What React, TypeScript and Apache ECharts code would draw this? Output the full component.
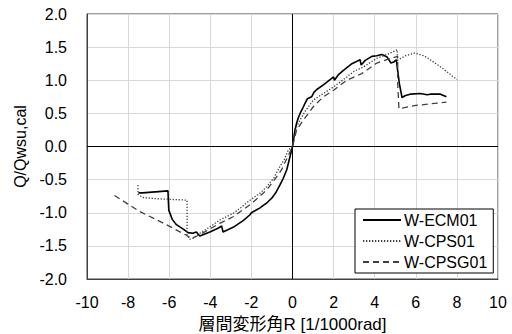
import React, { useEffect, useRef } from "react";
import * as echarts from "echarts";

const xTicks = [-10, -8, -6, -4, -2, 0, 2, 4, 6, 8, 10];
const yTicks = [-2.0, -1.5, -1.0, -0.5, 0.0, 0.5, 1.0, 1.5, 2.0];

const seriesNames = ["W-ECM01", "W-CPS01", "W-CPSG01"];

const ecm01: [number, number][] = [
  [-7.5, -0.7], [-7.3, -0.7], [-6.06, -0.67], [-6.02, -0.96], [-5.85, -1.1], [-5.65, -1.18],
  [-5.3, -1.25], [-5.08, -1.3], [-4.85, -1.31], [-4.68, -1.29], [-4.51, -1.35], [-4.02, -1.29],
  [-3.6, -1.23], [-3.45, -1.2], [-3.38, -1.29], [-2.89, -1.22], [-2.4, -1.12], [-2.07, -1.03],
  [-2.0, -1.0], [-1.6, -0.93], [-1.25, -0.85], [-1.18, -0.83], [-1.01, -0.78], [-0.8, -0.69],
  [-0.61, -0.58], [-0.45, -0.48], [-0.28, -0.35], [-0.12, -0.15], [0, 0],
  [0.05, 0.1], [0.12, 0.25], [0.2, 0.35], [0.28, 0.43], [0.4, 0.52], [0.5, 0.58], [0.62, 0.66],
  [0.72, 0.72], [0.93, 0.75], [1.05, 0.82], [1.18, 0.86], [1.5, 0.93], [1.75, 0.99], [2.0, 1.05],
  [2.04, 1.0], [2.25, 1.09], [2.48, 1.15], [2.89, 1.25], [3.29, 1.31], [3.34, 1.23], [3.54, 1.3],
  [3.86, 1.36], [4.1, 1.37], [4.35, 1.39], [4.6, 1.35], [4.79, 1.26], [4.95, 1.28], [5.05, 1.31],
  [5.2, 0.95], [5.33, 0.74], [5.5, 0.77], [5.73, 0.79], [6.22, 0.8], [6.55, 0.78], [6.71, 0.79],
  [7.2, 0.79], [7.49, 0.75],
];

const cps01: [number, number][] = [
  [-7.52, -0.58], [-7.52, -0.72], [-7.28, -0.77], [-6.5, -0.79], [-5.13, -0.81], [-5.13, -1.33],
  [-5.0, -1.4], [-4.8, -1.38], [-4.51, -1.31], [-4.0, -1.21], [-3.54, -1.11], [-2.89, -1.01],
  [-2.5, -0.92], [-2.07, -0.81], [-1.6, -0.71], [-1.26, -0.61], [-0.9, -0.47], [-0.61, -0.3],
  [-0.4, -0.2], [-0.2, -0.05], [0, 0],
  [0.04, 0.1], [0.2, 0.3], [0.37, 0.4], [0.61, 0.53], [1.01, 0.7], [1.5, 0.8], [2.0, 0.9],
  [2.48, 1.01], [2.97, 1.13], [3.45, 1.2], [4.1, 1.33], [4.76, 1.41], [5.1, 1.46], [5.1, 1.3],
  [5.5, 1.37], [5.95, 1.41], [6.4, 1.37], [6.7, 1.31], [7.3, 1.18], [8.0, 1.01],
];

const cpsg01: [number, number][] = [
  [-8.66, -0.74], [-7.44, -0.98], [-6.14, -1.18], [-5.16, -1.34], [-4.92, -1.39], [-4.51, -1.33],
  [-3.54, -1.16], [-2.89, -1.06], [-2.07, -0.88], [-1.26, -0.66], [-0.8, -0.47], [-0.53, -0.35],
  [-0.12, -0.08], [0, 0],
  [0.2, 0.25], [0.53, 0.4], [1.01, 0.6], [1.5, 0.75], [2.0, 0.85], [2.64, 1.0], [3.37, 1.1],
  [4.1, 1.26], [4.76, 1.33], [5.12, 1.36], [5.12, 0.95], [5.18, 0.57], [6.0, 0.62], [7.49, 0.67],
];

const FONT = "'Liberation Sans', Arial, 'Noto Sans CJK JP', sans-serif";

export default function App() {
  const ref = useRef<HTMLDivElement>(null);
  useEffect(() => {
    if (!ref.current) return;
    const chart = echarts.init(ref.current, null, { renderer: "svg" });
    const baseLine = { symbol: "none", showSymbol: false, smooth: false, z: 3 };
    chart.setOption({
      animation: false,
      backgroundColor: "#fff",
      textStyle: { fontFamily: FONT },
      grid: {
        left: 87, right: 14, top: 14, bottom: 55,
        outerBoundsMode: "none",
        containLabel: false,
        show: true, borderColor: "#404040", borderWidth: 1, backgroundColor: "transparent",
      },
      legend: {
        show: true,
        orient: "vertical",
        left: 355, top: 209,
        padding: [3, 6, 3, 7],
        itemWidth: 38, itemHeight: 16, itemGap: 5,
        itemStyle: { opacity: 0 },
        backgroundColor: "#fff",
        borderColor: "#000", borderWidth: 1,
        textStyle: { fontSize: 16, lineHeight: 16, color: "#000", fontFamily: FONT, padding: [0, 0, 0, -2] },
        data: seriesNames,
      },
      xAxis: {
        type: "value", min: xTicks[0], max: xTicks[xTicks.length - 1], interval: 2,
        axisLine: { show: true, onZero: false, lineStyle: { color: "#404040", width: 1 } },
        axisTick: { show: false },
        splitLine: { show: true, lineStyle: { color: "#d9d9d9", width: 1 } },
        axisLabel: { fontSize: 16, color: "#000", margin: 15, fontFamily: FONT },
        name: "層間変形角R [1/1000rad]",
        nameLocation: "middle", nameGap: 37,
        nameTextStyle: { fontSize: 17, lineHeight: 17, color: "#000", fontFamily: FONT },
      },
      yAxis: {
        type: "value", min: yTicks[0], max: yTicks[yTicks.length - 1], interval: 0.5,
        axisLine: { show: true, onZero: false, lineStyle: { color: "#404040", width: 1 } },
        axisTick: { show: false },
        splitLine: { show: true, lineStyle: { color: "#d9d9d9", width: 1 } },
        axisLabel: { fontSize: 16, color: "#000", margin: 20, fontFamily: FONT, formatter: (v: number) => v.toFixed(1) },
        name: "Q/Qwsu,cal",
        nameLocation: "middle", nameGap: 58, nameRotate: 90,
        nameTextStyle: { fontSize: 16, color: "#000", fontFamily: FONT },
      },
      series: [
        {
          ...baseLine, name: seriesNames[0], type: "line", data: ecm01,
          lineStyle: { color: "#000", width: 1.6, type: "solid" },
          itemStyle: { color: "#000" },
          markLine: {
            silent: true, symbol: "none", label: { show: false },
            lineStyle: { color: "#000", width: 1, type: "solid" },
            data: [{ xAxis: 0 }, { yAxis: 0 }],
            z: 2,
          },
        },
        {
          ...baseLine, name: seriesNames[1], type: "line", data: cps01,
          lineStyle: { color: "#404040", width: 1.3, type: [1.3, 1.7] },
          itemStyle: { color: "#404040" },
        },
        {
          ...baseLine, name: seriesNames[2], type: "line", data: cpsg01,
          lineStyle: { color: "#404040", width: 1.3, type: [6, 4] },
          itemStyle: { color: "#404040" },
        },
      ],
    });
    return () => chart.dispose();
  }, []);
  return <div ref={ref} style={{ position: "absolute", left: 0, top: 0, width: 512, height: 334 }} />;
}
